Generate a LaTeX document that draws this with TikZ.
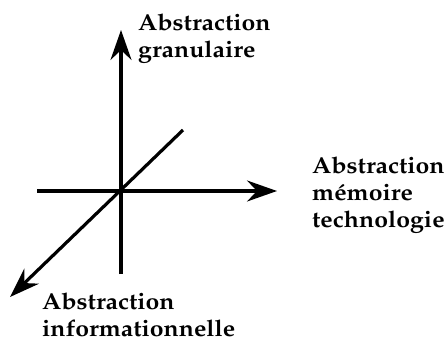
\documentclass[tikz,border=0pt]{standalone}
\usepackage[T1]{fontenc}
\usepackage{mathpazo}
\usetikzlibrary{arrows.meta}

\begin{document}
\begin{tikzpicture}[x=1pt,y=1pt,
    axe/.style={line width=3.2pt,-{Stealth[length=30pt,width=21pt,inset=10pt]}},
    lbl/.style={anchor=north west,inner sep=0pt,align=left,transform shape,xscale=1.08,
      font=\fontsize{23}{27}\selectfont\bfseries}]
    \useasboundingbox (0,0) rectangle (448,341);
    % axes
    \coordinate (O) at (121,150);
    \coordinate (haut) at (121,311);
    \coordinate (bas) at (121,67);
    \coordinate (gauche) at (37,150);
    \coordinate (droite) at (277,150);
    \coordinate (fond) at (183,211);
    \coordinate (avant) at (10,44);
    \draw[axe] (bas) -- (haut);
    \draw[axe] (gauche) -- (droite);
    \draw[axe] (fond) -- (avant);
    % labels
    \node[lbl] (gran) at (138,327) {Abstraction\\granulaire};
    \node[lbl] (mem) at (312,184) {Abstraction\\m\'emoire\\technologie};
    \node[lbl] (info) at (42,48) {Abstraction\\informationnelle};
\end{tikzpicture}
\end{document}
